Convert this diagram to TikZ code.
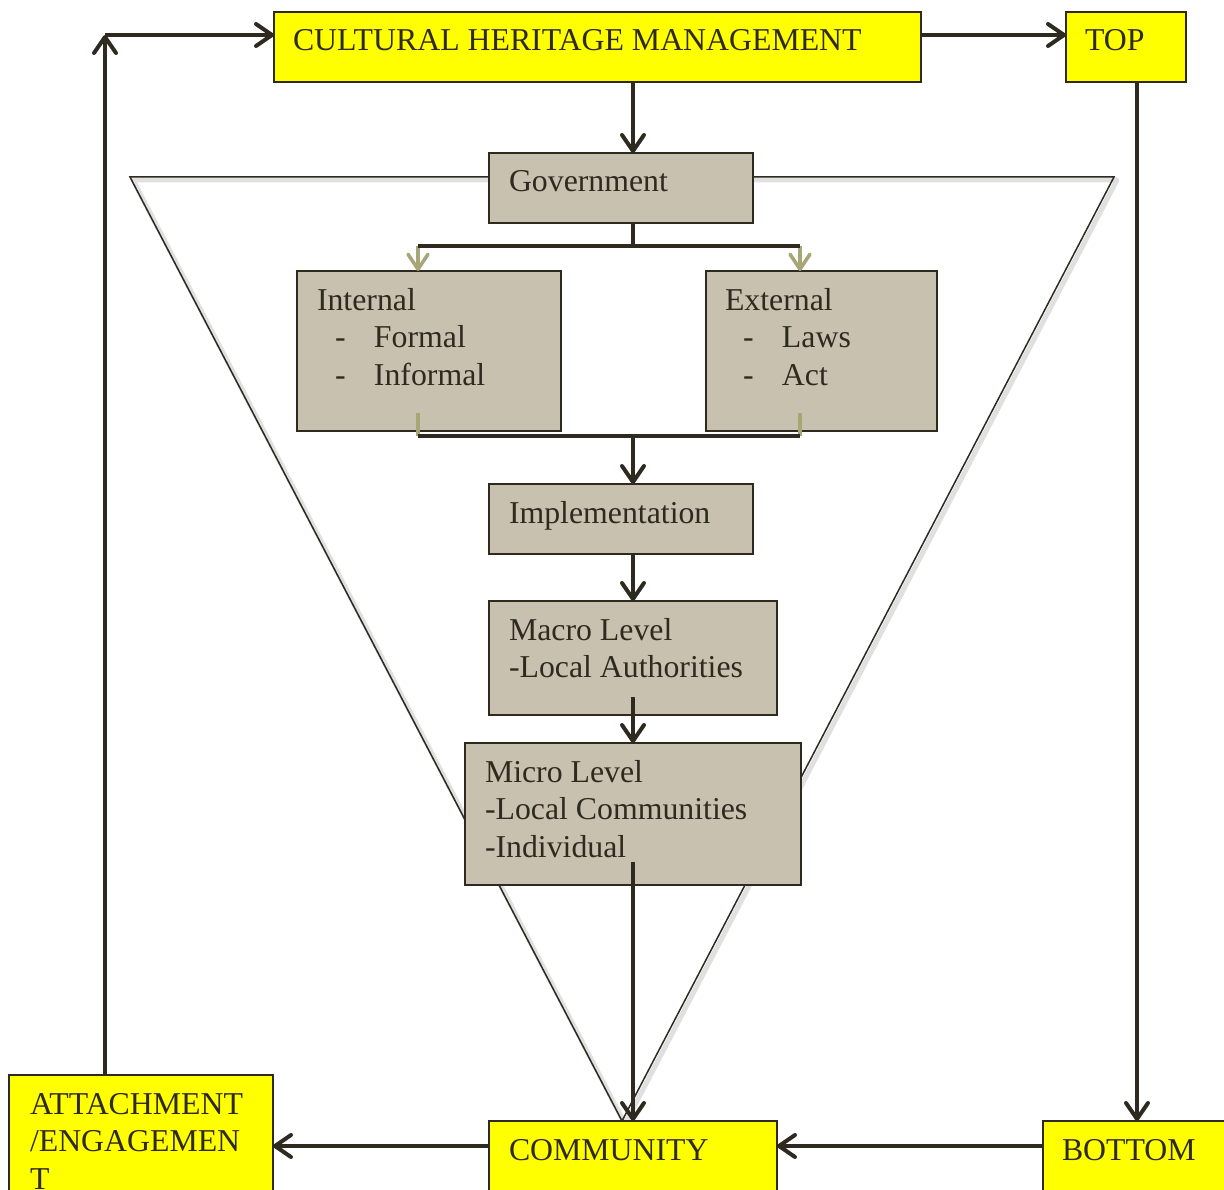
\documentclass[tikz,border=0pt]{standalone}
\usepackage{fontspec}
\setmainfont{Liberation Serif}
\usetikzlibrary{arrows.meta}
\definecolor{ink}{RGB}{47,42,32}
\definecolor{tanfill}{RGB}{200,193,176}
\definecolor{olivetone}{RGB}{168,166,120}
\definecolor{boxyellow}{RGB}{255,255,0}
\newcommand\dashitem{\makebox[57pt][l]{\hspace{18pt}-}}
\begin{document}
\begin{tikzpicture}[x=1pt,y=-1pt,
  every node/.style={inner sep=0pt,outer sep=0pt},
  tanbox/.style={draw=ink,line width=1.5pt,fill=tanfill,anchor=north west,rectangle},
  ybox/.style={draw=ink,line width=1.5pt,fill=boxyellow,anchor=north west,rectangle},
  txt/.style={anchor=base west,align=left,text=ink,font=\fontsize{31.8pt}{37.5pt}\selectfont},
  arr/.style={draw=ink,line width=4pt,-{Straight Barb[length=16pt,width=22pt,round]}},
  link/.style={draw=ink,line width=4pt},
  oarr/.style={draw=olivetone,line width=3.5pt,-{Straight Barb[length=15pt,width=20pt,round]}},
  otick/.style={draw=olivetone,line width=3.5pt},
  tri/.style={draw=ink,line width=1.5pt,line join=miter},
  trishade/.style={draw=black!12,line width=5pt,line join=round}
]
\useasboundingbox (0,0) rectangle (1224,1190);
\clip (0,0) rectangle (1224,1190);

% funnel behind the boxes
\coordinate (tl) at (130,177);
\coordinate (tr) at (1114,177);
\coordinate (ap) at (622,1121);
\draw[trishade] ([shift={(3,3)}]tl) -- ([shift={(3,3)}]tr) -- ([shift={(3,3)}]ap) -- cycle;
\draw[tri] (tl) -- (tr) -- (ap) -- cycle;

% guide coordinates for the connectors
\coordinate (sp) at (633,0);
\coordinate (lp) at (105,35);
\coordinate (rx) at (1137,0);
\coordinate (by) at (0,1146);
\coordinate (bl) at (418,246);
\coordinate (br) at (800,246);
\coordinate (ml) at (418,436);
\coordinate (mr) at (800,436);

% boxes
\node[ybox,minimum width=647,minimum height=70] (chm) at (274,12) {};
\node[ybox,minimum width=120,minimum height=70] (top) at (1066,12) {};
\node[tanbox,minimum width=264,minimum height=70] (gov) at (489,153) {};
\node[tanbox,minimum width=264,minimum height=160] (int) at (297,271) {};
\node[tanbox,minimum width=231,minimum height=160] (ext) at (706,271) {};
\node[tanbox,minimum width=264,minimum height=70] (imp) at (489,484) {};
\node[tanbox,minimum width=288,minimum height=114] (mac) at (489,601) {};
\node[tanbox,minimum width=336,minimum height=142] (mic) at (465,743) {};
\node[ybox,minimum width=264,minimum height=130] (att) at (9,1075) {};
\node[ybox,minimum width=288,minimum height=100] (com) at (489,1121) {};
\node[ybox,minimum width=200,minimum height=100] (bot) at (1043,1121) {};

% box texts (base anchor sits on the last line)
\node[txt] (chm-t) at ([shift={(19,39)}]chm.north west) {CULTURAL HERITAGE MANAGEMENT};
\node[txt] (top-t) at ([shift={(19,39)}]top.north west) {TOP};
\node[txt] (gov-t) at ([shift={(20,39)}]gov.north west) {Government};
\node[txt] (int-t) at ([shift={(20,114)}]int.north west) {Internal\\\dashitem Formal\\\dashitem Informal};
\node[txt] (ext-t) at ([shift={(19,114)}]ext.north west) {External\\\dashitem Laws\\\dashitem Act};
\node[txt] (imp-t) at ([shift={(20,39)}]imp.north west) {Implementation};
\node[txt] (mac-t) at ([shift={(20,76.5)}]mac.north west) {Macro Level\\-Local Authorities};
\node[txt] (mic-t) at ([shift={(20,114)}]mic.north west) {Micro Level\\-Local Communities\\-Individual};
\node[txt] (att-t) at ([shift={(21,114)}]att.north west) {ATTACHMENT\\/ENGAGEMEN\\T};
\node[txt] (com-t) at ([shift={(20,39)}]com.north west) {COMMUNITY};
\node[txt] (bot-t) at ([shift={(19,39)}]bot.north west) {BOTTOM};

% outer loop
\draw[arr] (att.north -| lp) -- (lp);
\draw[arr] (lp) -- (chm.west |- lp);
\draw[arr] (chm.east |- lp) -- (top.west |- lp);
\draw[arr] (top.south -| rx) -- (bot.north -| rx);
\draw[arr] (bot.west |- by) -- (com.east |- by);
\draw[arr] (com.west |- by) -- (att.east |- by);

% spine
\draw[arr] (chm.south -| sp) -- (gov.north -| sp);
\draw[oarr] (bl) -- (int.north -| bl);
\draw[oarr] (br) -- (ext.north -| br);
\draw[link] (gov.south -| sp) -- (sp |- bl);
\draw[link] (bl) -- (br);
\draw[otick] ([yshift=18pt]int.south -| ml) -- (ml);
\draw[otick] ([yshift=18pt]ext.south -| mr) -- (mr);
\draw[link] (ml) -- (mr);
\draw[arr] (sp |- ml) -- (imp.north -| sp);
\draw[arr] (imp.south -| sp) -- (mac.north -| sp);
\draw[arr] ([yshift=18pt]mac.south -| sp) -- (mic.north -| sp);
\draw[arr] ([yshift=23pt]mic.south -| sp) -- (com.north -| sp);
\end{tikzpicture}
\end{document}
